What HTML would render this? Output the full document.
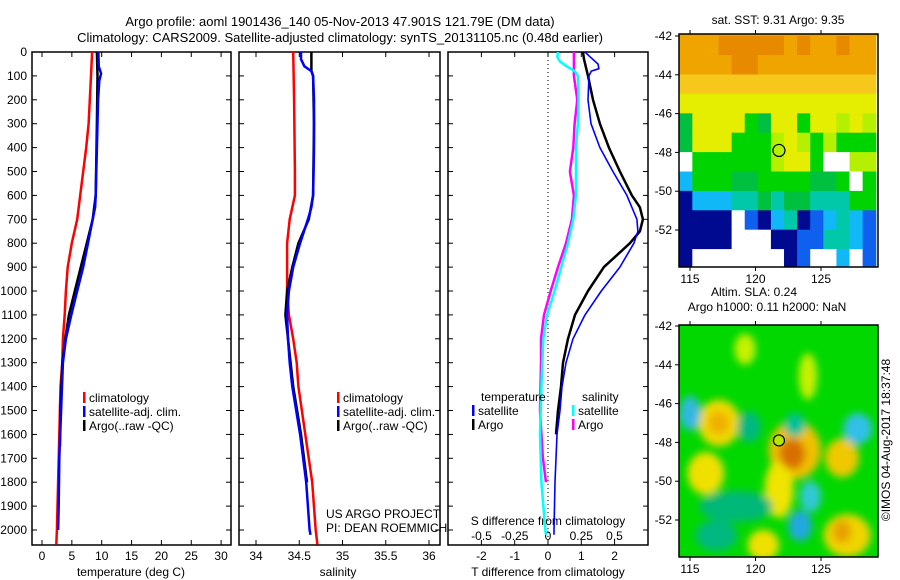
<!DOCTYPE html>
<html><head><meta charset="utf-8"><style>
html,body{margin:0;padding:0;background:#fff;}
svg{display:block;font-family:"Liberation Sans",sans-serif;}
</style></head><body>
<svg id="fig" width="900" height="580" viewBox="0 0 900 580">
<defs>
<clipPath id="c1"><rect x="32" y="52" width="199" height="493"/></clipPath>
<clipPath id="c2"><rect x="239" y="52" width="201" height="493"/></clipPath>
<clipPath id="c3"><rect x="448" y="52" width="200" height="493"/></clipPath>
<clipPath id="cm1"><rect x="679" y="34" width="199" height="233"/></clipPath>
<clipPath id="cm2"><rect x="679" y="325" width="199" height="232"/></clipPath>
<filter id="blur" x="-30%" y="-30%" width="160%" height="160%"><feGaussianBlur stdDeviation="4"/></filter>
</defs>
<text x="340" y="26" font-size="13" text-anchor="middle">Argo profile: aoml 1901436_140 05-Nov-2013 47.901S 121.79E (DM data)</text>
<text x="340" y="42" font-size="13" text-anchor="middle">Climatology: CARS2009. Satellite-adjusted climatology: synTS_20131105.nc (0.48d earlier)</text>
<g id="g"></g>
</svg>
<script>
// ---------- profile data ----------
const tempClimDepth = [0,100,200,300,400,500,600,700,800,900,1000,1100,1200,1300,1400,1600,1800,2000,2060];
const tempClim      = [8.4,8.2,8.0,7.8,7.4,6.9,6.4,5.9,5.0,4.3,4.0,3.8,3.5,3.4,3.1,2.9,2.7,2.5,2.4];
const tempSatDepth  = [0,60,90,120,200,400,600,650,700,800,900,1000,1100,1200,1300,1500,1700,1900,2000];
const tempSat       = [9.45,9.5,9.9,9.6,9.4,9.2,9.0,8.9,8.5,7.7,6.9,5.9,4.9,4.0,3.5,3.2,2.9,2.8,2.7];
const tempArgoDepth = [0,100,300,600,700,800,900,1000,1100,1200,1300,1500,1650];
const tempArgo      = [9.2,9.3,9.2,9.0,8.5,7.5,6.5,5.5,4.5,3.9,3.4,3.1,3.0];

const salClimDepth = [0,200,500,600,700,800,900,1000,1100,1200,1300,1400,1600,1800,2000,2060];
const salClim      = [34.43,34.44,34.45,34.45,34.39,34.36,34.36,34.36,34.38,34.43,34.47,34.49,34.57,34.65,34.69,34.71];
const salSatDepth  = [0,30,60,80,100,200,400,600,650,700,800,900,1000,1100,1200,1300,1400,1600,1800,2000,2020];
const salSat       = [34.52,34.52,34.56,34.64,34.66,34.67,34.67,34.66,34.64,34.60,34.51,34.43,34.38,34.36,34.37,34.39,34.42,34.51,34.58,34.62,34.63];
const salArgoDepth = [0,80,100,300,600,700,800,900,1000,1100,1200,1400,1600,1800];
const salArgo      = [34.64,34.64,34.66,34.67,34.66,34.61,34.49,34.42,34.36,34.34,34.37,34.43,34.52,34.59];

const dTArgoDepth = [0,30,100,200,300,400,500,600,650,700,750,800,850,900,1000,1100,1200,1300,1400,1500,1600];
const dTArgo      = [1.05,1.08,1.2,1.35,1.56,1.83,2.16,2.52,2.76,2.85,2.76,2.46,2.07,1.68,1.2,0.81,0.6,0.45,0.39,0.3,0.24];
const dTSatDepth  = [0,20,50,70,80,100,200,300,400,500,600,700,750,800,900,1000,1100,1200,1300,1400,1500,1600,1800,2000,2020];
const dTSat       = [1.11,1.26,1.5,1.53,1.3,1.23,1.2,1.29,1.56,1.95,2.37,2.67,2.7,2.58,2.16,1.6,1.11,0.75,0.54,0.42,0.36,0.27,0.21,0.18,0.18];
const dSArgoDepth = [0,100,200,300,400,500,600,700,800,900,1000,1100,1200,1300,1500,1700,1800];
const dSArgo      = [0.195,0.195,0.22,0.2,0.19,0.165,0.195,0.18,0.135,0.075,0.02,-0.03,-0.053,-0.053,-0.06,-0.038,-0.015];
const dSSatDepth  = [0,20,40,60,80,100,200,300,400,500,600,700,800,900,1000,1100,1200,1400,1600,1800,2000,2020];
const dSSat       = [0.075,0.07,0.09,0.14,0.2,0.225,0.23,0.225,0.21,0.21,0.21,0.19,0.15,0.1,0.05,-0.007,-0.035,-0.05,-0.06,-0.05,-0.02,-0.015];

const depthTicks = [0,100,200,300,400,500,600,700,800,900,1000,1100,1200,1300,1400,1500,1600,1700,1800,1900,2000];
const tempTicks = [0,5,10,15,20,25,30];
const salTicks = [34,34.5,35,35.5,36];
const salTickLabels = ["34","34.5","35","35.5","36"];
const dTTicks = [-2,-1,0,1,2];
const dSTicks = [-0.5,-0.25,0,0.25,0.5];
const dSTickLabels = ["-0.5","-0.25","0","0.25","0.5"];

// ---------- map data ----------
const mapLatTicks = [-42,-44,-46,-48,-50,-52];
const mapLonTicks = [115,120,125];
const sstRows = [
 "OOOoooooOoOOoOO",
 "OOOOooOOOOOOOOO",
 "yyyyyyyyyyyyyyy",
 "YYYYYYYYYYYYYYY",
 "GYYYYgGYYgYYlYl",
 "GYYYggglYlglggg",
 "wgggggglYYgwwll",
 "cgggGGggggGGgwg",
 "ncccttGtGGtttgg",
 "nnnnwbnctnbctcb",
 "nnnnwwwnnbbttcb",
 "nwwwwwwwnbwwcwb"
];
const sstColors = {o:"#e88a00",O:"#f0a400",y:"#f6c81c",Y:"#e6ee00",l:"#b4f000",g:"#00d400",G:"#00c040",t:"#00c8a8",c:"#10b8f8",b:"#1060f0",n:"#000a90",w:"#ffffff"};
const slaLon   = [119.2,124.0,117.2,116.2,123.0,121.8,126.6,127.0,120.6,115.0,127.8,123.4,124.2,119.5,123.0,118.5,117.0,122.8,126.6,117.2];
const slaLat   = [-43.2,-44.6,-47.0,-49.6,-48.4,-50.4,-48.8,-52.8,-53.3,-46.5,-47.3,-52.3,-50.8,-47.2,-47.1,-51.3,-52.8,-48.6,-52.6,-47.0];
const slaRx    = [0.8,0.7,1.6,1.4,2.0,1.1,1.3,1.8,1.2,0.8,1.1,0.9,0.8,0.9,0.8,2.8,1.6,1.0,0.7,0.8];
const slaRy    = [0.8,1.2,1.2,1.1,1.5,1.5,1.0,1.1,0.8,0.9,0.8,0.8,0.8,0.8,0.6,0.8,0.8,0.8,0.6,0.6];
const slaCol   = ["#c8f000","#c8f000","#f0d800","#f0e000","#f0c000","#f0e400","#f0c800","#f0d400","#f0e000","#30b8e0","#30c0e8","#20a8e0","#30c8d8","#00b880","#00c098","#00b878","#00b880","#d87000","#e8a000","#f0b000"];

// ---------- drawing ----------
const NS="http://www.w3.org/2000/svg";
const G=document.getElementById('g');
function el(tag,attrs,parent){const e=document.createElementNS(NS,tag);for(const k in attrs)e.setAttribute(k,attrs[k]);(parent||G).appendChild(e);return e;}
function txt(x,y,s,size,anchor,parent){const t=el('text',{x:x,y:y,'font-size':size||12,'text-anchor':anchor||'middle'},parent);t.textContent=s;return t;}
const yD = d => 52 + 0.239*d;
const xT = t => 42 + 5.97*t;
const xS = s => 256 + 86.5*(s-34);
const xdT = t => 548 + 33.3*t;
const xdS = s => 548 + 133*s;
const TOP=52, BOT=545;

function panel(x0,x1,name){
  const r=el('rect',{x:x0,y:TOP,width:x1-x0,height:BOT-TOP,fill:'none',stroke:'#000','stroke-width':1.5});
  
  
  depthTicks.forEach(d=>{el('line',{x1:x0,x2:x0+5,y1:yD(d),y2:yD(d),stroke:'#000'});el('line',{x1:x1-5,x2:x1,y1:yD(d),y2:yD(d),stroke:'#000'});});
}
function xticks(vals,fx,labels,ylab){
  vals.forEach((v,i)=>{const x=fx(v);el('line',{x1:x,x2:x,y1:TOP,y2:TOP+5,stroke:'#000'});el('line',{x1:x,x2:x,y1:BOT-5,y2:BOT,stroke:'#000'});
   if(labels){const t=txt(x,ylab,labels[i],12);}});
}
function line(ds,vs,fx,col,w,clip,name){
  const pts=ds.map((d,i)=>fx(vs[i]).toFixed(1)+','+yD(d).toFixed(1)).join(' ');
  const p=el('polyline',{points:pts,fill:'none',stroke:col,'stroke-width':w,'clip-path':'url(#'+clip+')','stroke-linejoin':'round'});
  
  
}
depthTicks.forEach(d=>{const t=txt(27,yD(d)+4,String(d),12,'end');});

panel(32,231,'temperature-panel');
xticks(tempTicks,xT,tempTicks.map(String),560);
let t=txt(131,576,'temperature (deg C)',12);
line(tempClimDepth,tempClim,xT,'#ff0000',2.5,'c1','temp-climatology-line');
line(tempArgoDepth,tempArgo,xT,'#000',2.5,'c1','temp-argo-line');
line(tempSatDepth,tempSat,xT,'#0000ff',2.5,'c1','temp-satellite-line');
function legend(x,y,items){items.forEach((it,i)=>{el('rect',{x:x,y:y+i*14-10,width:2.5,height:11,fill:it[1]});const tt=txt(x+6,y+i*14,it[0],12,'start');});}
legend(83,402,[['climatology','#ff0000'],['satellite-adj. clim.','#0000ff'],['Argo(..raw -QC)','#000']]);

panel(239,440,'salinity-panel');
xticks(salTicks,xS,salTickLabels,560);
t=txt(338,576,'salinity',12);
line(salClimDepth,salClim,xS,'#ff0000',2.5,'c2','sal-climatology-line');
line(salArgoDepth,salArgo,xS,'#000',2.5,'c2','sal-argo-line');
line(salSatDepth,salSat,xS,'#0000ff',2.5,'c2','sal-satellite-line');
legend(337,402,[['climatology','#ff0000'],['satellite-adj. clim.','#0000ff'],['Argo(..raw -QC)','#000']]);
t=txt(326,518,'US ARGO PROJECT',12,'start');
t=txt(326,532,'PI: DEAN ROEMMICH',12,'start');

panel(448,648,'difference-panel');
xticks(dTTicks,xdT,dTTicks.map(String),560);
dSTicks.forEach((v,i)=>{const tt=txt(xdS(v),540,dSTickLabels[i],12);});
t=txt(548,525,'S difference from climatology',12);
t=txt(548,576,'T difference from climatology',12);
el('line',{x1:548,x2:548,y1:TOP,y2:BOT,stroke:'#000','stroke-dasharray':'1,3'});
line(dSArgoDepth,dSArgo,xdS,'#ff00ff',2.5,'c3','sdiff-argo-line');
line(dSSatDepth,dSSat,xdS,'#00ffff',2.5,'c3','sdiff-satellite-line');
line(dTArgoDepth,dTArgo,xdT,'#000',2.5,'c3','tdiff-argo-line');
line(dTSatDepth,dTSat,xdT,'#0000ff',1.6,'c3','tdiff-satellite-line');
t=txt(481,401,'temperature',12,'start');
t=txt(582,401,'salinity',12,'start');
legend(472,415,[['satellite','#0000ff'],['Argo','#000']]);
legend(572,415,[['satellite','#00ffff'],['Argo','#ff00ff']]);

const mx = lon => 690 + 13.1*(lon-115);
function mapAxes(y0,y1,latY,name){
  const r=el('rect',{x:679,y:y0,width:199,height:y1-y0,fill:'none',stroke:'#000','stroke-width':1.5});
  
  
  mapLatTicks.forEach(l=>{const y=latY(l);el('line',{x1:675,x2:679,y1:y,y2:y,stroke:'#000'});const tt=txt(672,y+4,String(l),12,'end');});
  mapLonTicks.forEach(l=>{const x=mx(l);el('line',{x1:x,x2:x,y1:y0-4,y2:y0,stroke:'#000'});el('line',{x1:x,x2:x,y1:y1,y2:y1+4,stroke:'#000'});const tt=txt(x,y1+16,String(l),12);});
}
const y1L = l => 36 + 19.4*(-42-l);
const sstG=el('g',{'clip-path':'url(#cm1)'});
sstRows.forEach((row,ri)=>{[...row].forEach((ch,ci)=>{
  const c=el('rect',{x:mx(114.2+ci)-0.3,y:y1L(-42-ri)-0.3,width:13.7,height:20,fill:sstColors[ch]},sstG);
  
  
});});
el('rect',{x:679,y:30,width:199,height:6,fill:'#f0a400'},sstG);
mapAxes(34,267,y1L,'sst-map');
t=txt(778,24,'sat. SST: 9.31  Argo: 9.35',12);
let ac=el('circle',{cx:mx(121.79),cy:y1L(-47.9),r:6,fill:'none',stroke:'#000','stroke-width':1.2});


const y2L = l => 326 + 19.4*(-42-l);
const slaG=el('g',{'clip-path':'url(#cm2)'});
el('rect',{x:679,y:325,width:199,height:232,fill:'#00d800'},slaG);
const blobG=el('g',{filter:'url(#blur)'},slaG);
slaLon.forEach((lon,i)=>{const b=el('ellipse',{cx:mx(lon),cy:y2L(slaLat[i]),rx:slaRx[i]*13.1,ry:slaRy[i]*19.4,fill:slaCol[i]},blobG);
  
  });
mapAxes(325,557,y2L,'sla-map');
t=txt(754,296,'Altim. SLA: 0.24',12);
t=txt(767,311,'Argo h1000: 0.11 h2000: NaN',12);
ac=el('circle',{cx:mx(121.79),cy:y2L(-47.9),r:5.5,fill:'#b4e800',stroke:'#000','stroke-width':1.2});

t=txt(0,0,'©IMOS 04-Aug-2017 18:37:48',12);t.setAttribute('transform','translate(890,440) rotate(-90)');

</script>
</body></html>
